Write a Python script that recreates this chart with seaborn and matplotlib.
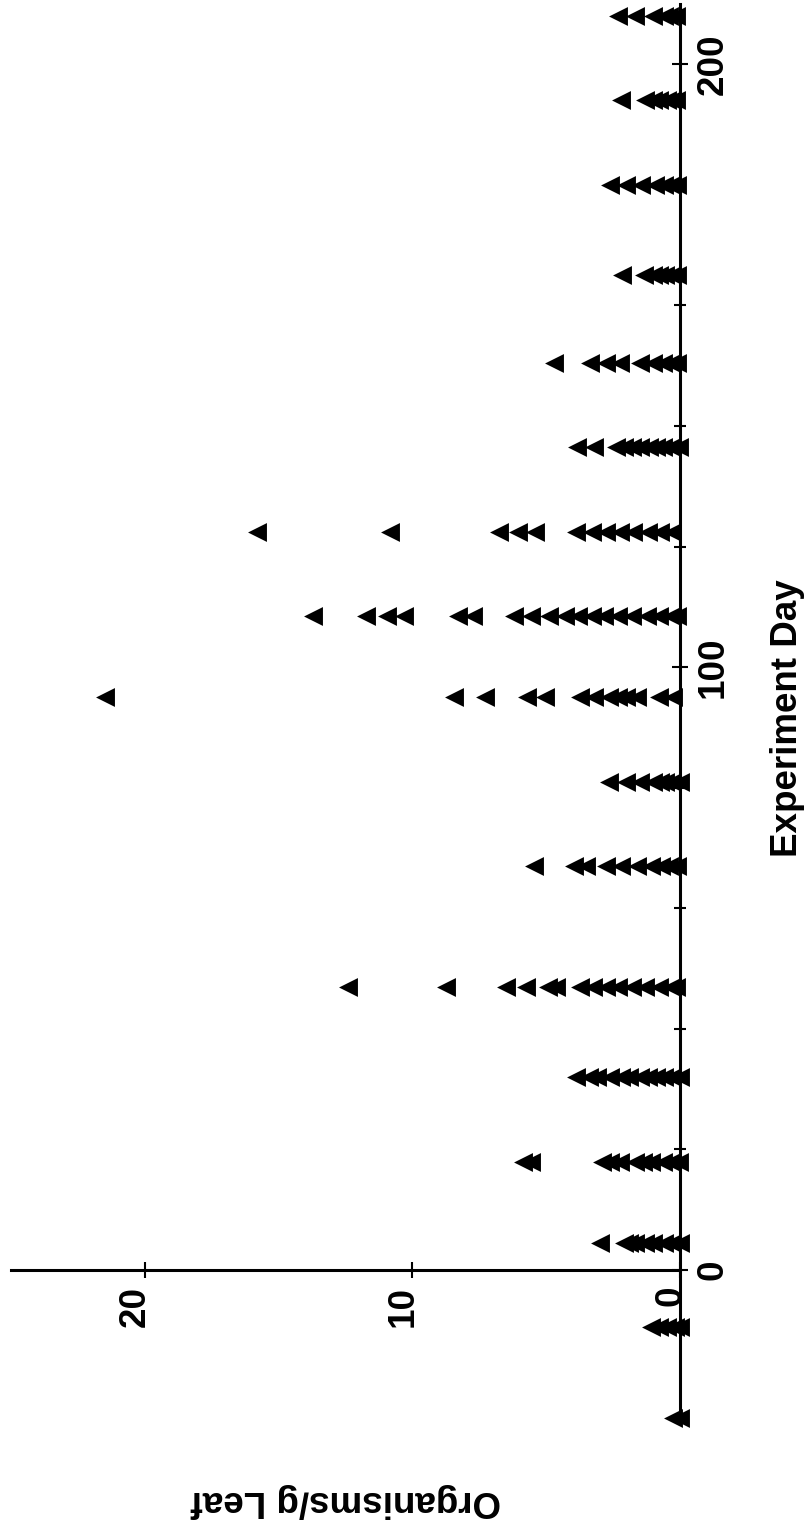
import matplotlib
matplotlib.use("Agg")
import matplotlib.pyplot as plt
from matplotlib.ticker import FixedLocator
import numpy as np
import pandas as pd
import seaborn as sns

# ---- data ----
sample_days = [-24.5, -9.5, 4.5, 18, 32, 47, 67, 81, 95, 108.5,
               122.5, 136.5, 150.5, 165, 180, 194, 208]

org_day_m25 = [0.25, 0.0]
org_day_m10 = [1.1, 0.8, 0.5, 0.2, 0.0]
org_day_4 = [3.0, 2.1, 1.9, 1.7, 1.3, 1.0, 0.6, 0.3, 0.0]
org_day_18 = [5.85, 5.55, 2.9, 2.6, 2.25, 1.7, 1.4, 1.1, 0.65, 0.35, 0.05]
org_day_32 = [3.9, 3.4, 3.1, 2.6, 2.2, 1.9, 1.5, 1.2, 0.9, 0.6, 0.3, 0.0]
org_day_47 = [12.4, 8.75, 6.5, 5.75, 4.95, 4.65, 3.75, 3.25, 2.75, 2.3,
              1.8, 1.3, 0.8, 0.35, 0.15]
org_day_67 = [5.45, 3.95, 3.5, 2.75, 2.2, 1.6, 1.1, 0.7, 0.4, 0.1]
org_day_81 = [2.65, 2.0, 1.5, 1.0, 0.75, 0.55, 0.3, 0.0]
org_day_95 = [21.5, 8.45, 7.3, 5.7, 5.05, 3.75, 3.2, 2.65, 2.3, 2.0, 1.6, 0.8, 0.25]
org_day_108 = [13.7, 11.75, 10.95, 10.3, 8.3, 7.75, 6.2, 5.55, 4.9, 4.3,
               3.8, 3.3, 2.85, 2.3, 1.8, 1.25, 0.8, 0.35, 0.1]
org_day_122 = [15.8, 10.85, 6.75, 6.05, 5.4, 3.9, 3.3, 2.75, 2.25, 1.75, 1.2, 0.75, 0.3]
org_day_136 = [3.85, 3.2, 2.4, 2.1, 1.8, 1.5, 1.15, 0.9, 0.65, 0.35, 0.05]
org_day_150 = [4.7, 3.35, 2.75, 2.25, 1.5, 1.0, 0.65, 0.35, 0.1]
org_day_165 = [2.15, 1.35, 1.0, 0.8, 0.55, 0.3, 0.1]
org_day_180 = [2.6, 2.0, 1.45, 0.95, 0.6, 0.35, 0.1]
org_day_194 = [2.2, 1.3, 1.0, 0.8, 0.5, 0.3, 0.15]
org_day_208 = [2.3, 1.7, 1.0, 0.6, 0.4, 0.15]

counts = [org_day_m25, org_day_m10, org_day_4, org_day_18, org_day_32, org_day_47,
          org_day_67, org_day_81, org_day_95, org_day_108, org_day_122, org_day_136,
          org_day_150, org_day_165, org_day_180, org_day_194, org_day_208]

day_ticks = [0, 100, 200]
day_minor_ticks = [20, 40, 60, 80, 120, 140, 160, 180]
org_ticks = [0, 10, 20]

rows_day, rows_org = [], []
for d, vals in zip(sample_days, counts):
    for v in vals:
        rows_day.append(d)
        rows_org.append(v)
df = pd.DataFrame({"Experiment Day": rows_day, "Organisms/g Leaf": rows_org})

# ---- style ----
sns.set_theme(style="white")
plt.rcParams["font.family"] = ["Liberation Sans", "DejaVu Sans"]
plt.rcParams["font.weight"] = "bold"

W, H = 809, 1525
fig = plt.figure(figsize=(W / 100, H / 100), dpi=100)
fig.patch.set_facecolor("white")

# axes: organisms axis runs right->left (0 at x=680 px, 25 at x=11 px)
#       day axis runs bottom->top (-25 at y=1420.75 px, 210 at y=4 px)
x0, x1 = 11, 680
y_bot, y_top = 1420.75, 4
ax = fig.add_axes([x0 / W, (H - y_bot) / H, (x1 - x0) / W, (y_bot - y_top) / H])
ax.set_facecolor("white")

sns.scatterplot(data=df, x="Organisms/g Leaf", y="Experiment Day", marker="<",
                s=185, color="black", linewidth=0, clip_on=False, legend=False,
                ax=ax, zorder=3)

ax.set_xlim(25, 0)
ax.set_ylim(-25, 210)

for side in ["left", "top"]:
    ax.spines[side].set_visible(False)
for side in ["bottom", "right"]:
    ax.spines[side].set_color("black")
    ax.spines[side].set_linewidth(2.2)
ax.spines["bottom"].set_position(("data", 0))

fs = 26.5
# organisms ticks (bottom)
ax.xaxis.set_ticks_position("bottom")
ax.set_xticks(org_ticks)
ax.tick_params(axis="x", which="major", direction="inout", length=11.5, width=1.5,
               pad=5.5, labelsize=fs, colors="black")
ax.set_xticklabels([str(t) for t in org_ticks], rotation=90, rotation_mode="anchor",
                   ha="right", va="baseline", fontsize=fs, fontweight="bold")

# day ticks (right)
ax.yaxis.set_ticks_position("right")
ax.set_yticks(day_ticks)
ax.yaxis.set_minor_locator(FixedLocator(day_minor_ticks))
ax.tick_params(axis="y", which="major", direction="inout", length=11, width=1.5,
               pad=5.5, labelsize=fs, colors="black", right=True, left=False,
               labelright=True, labelleft=False)
ax.tick_params(axis="y", which="minor", direction="inout", length=8, width=1.5,
               colors="black", right=True, left=False)
ax.set_yticklabels([str(t) for t in day_ticks], rotation=90, va="center", ha="left",
                   fontsize=fs, fontweight="bold")

# axis titles (rotated with the page)
ax.set_xlabel("Organisms/g Leaf", fontsize=fs, fontweight="bold", rotation=180,
              color="black")
ax.xaxis.label.set_rotation_mode("default")
ax.xaxis.label.set_verticalalignment("top")
ax.xaxis.set_label_coords(0.5, (y_bot - 1483) / (y_bot - y_top))
ax.set_ylabel("Experiment Day", fontsize=fs, fontweight="bold", rotation=90,
              color="black")
ax.yaxis.set_label_position("right")
ax.yaxis.set_label_coords((770 - x0) / (x1 - x0), (y_bot - 718) / (y_bot - y_top))

ax.grid(False)
fig.savefig("out.png", dpi=100, facecolor="white")
